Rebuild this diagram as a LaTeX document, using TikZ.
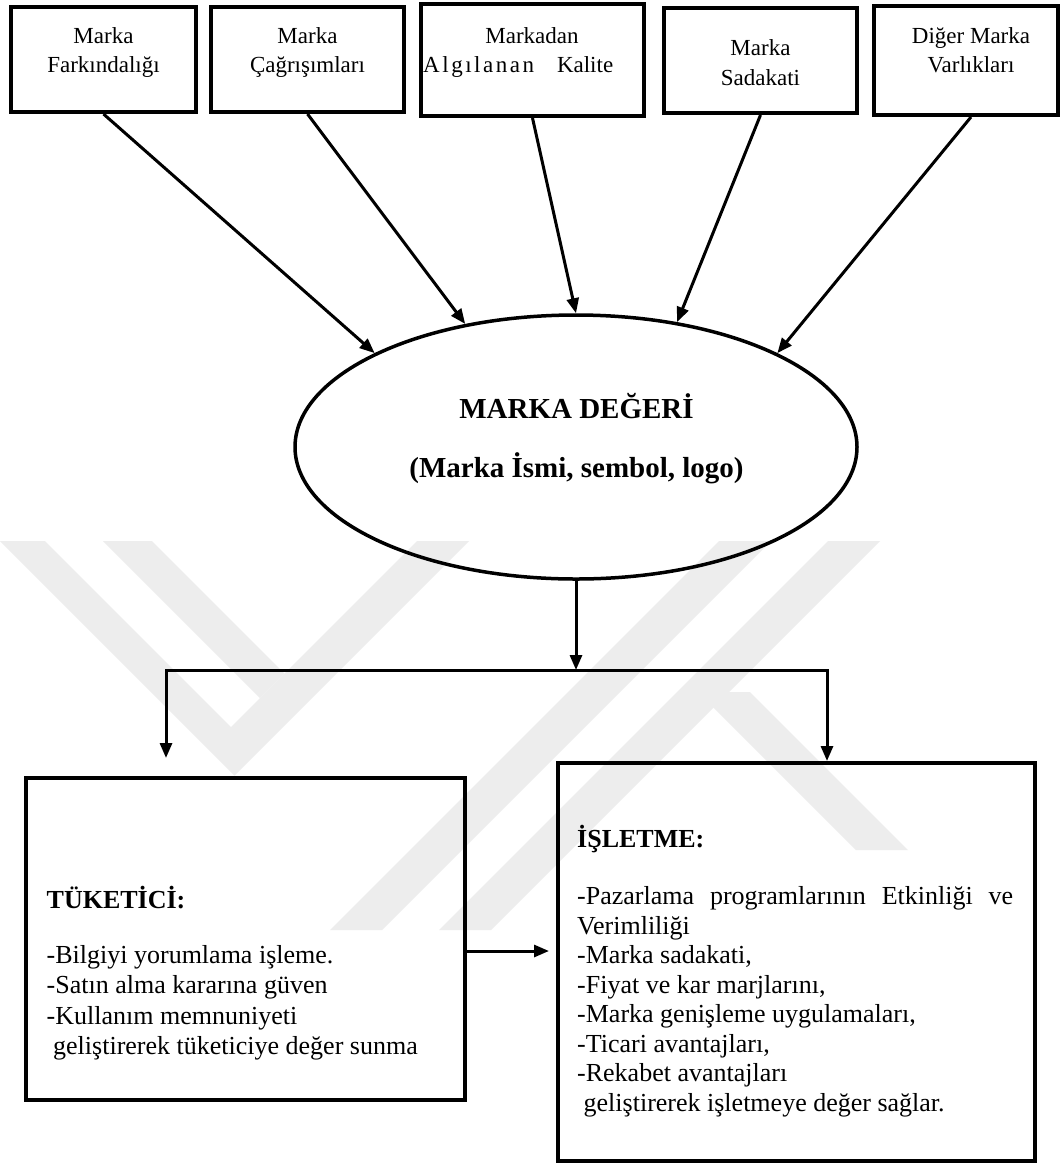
\documentclass[tikz,border=0pt]{standalone}
\usepackage{fontspec}
\setmainfont{Liberation Serif}
\usetikzlibrary{arrows.meta,shapes.geometric}

\begin{document}
\begin{tikzpicture}[x=1pt,y=-1pt,
  box/.style={draw, line width=4pt, inner sep=0pt},
  toptxt/.style={inner sep=0pt, anchor=base, font=\fontsize{23}{28}\selectfont},
  midtxt/.style={inner sep=0pt, anchor=base, font=\bfseries\fontsize{29}{34}\selectfont},
  bodytxt/.style={inner sep=0pt, anchor=base west, font=\fontsize{26}{30}\selectfont},
  headtxt/.style={inner sep=0pt, anchor=base west, font=\bfseries\fontsize{26}{30}\selectfont},
  conn/.style={line width=3pt, -{Triangle[length=15pt,width=12pt]}},
  wm/.style={fill=black!7, draw=none}]
\useasboundingbox[fill=white] (0,0) rectangle (1063,1176);

% faint background emblem
\fill[wm] (0,541) -- (45,541) -- (231,727) -- (417,541) -- (469,541) -- (234.5,775.5) -- cycle;
\fill[wm] (103,541) -- (152,541) -- (284.5,673.5) -- (260,698) -- cycle;
\fill[wm] (719,541) -- (771,541) -- (382,930) -- (330,930) -- cycle;
\fill[wm] (828,541) -- (880,541) -- (491,930) -- (439,930) -- cycle;
\fill[wm] (698,692) -- (750,692) -- (908,850) -- (856,850) -- cycle;

% source boxes
\node[box, minimum width=185, minimum height=105] (b1) at (103.5,59.5) {};
\node[box, minimum width=193, minimum height=105] (b2) at (307.5,59.5) {};
\node[box, minimum width=223, minimum height=112] (b3) at (532.5,60) {};
\node[box, minimum width=193, minimum height=105] (b4) at (760.5,60.5) {};
\node[box, minimum width=184, minimum height=109] (b5) at (966,60.5) {};

\node[toptxt] (t1a) at (103.5,43) {Marka};
\node[toptxt] (t1b) at (103.5,72) {Farkındalığı};
\node[toptxt] (t2a) at (307.5,43) {Marka};
\node[toptxt] (t2b) at (307.5,72) {Çağrışımları};
\node[toptxt] (t3a) at (532,43) {Markadan};
\node[toptxt, anchor=base west] (t3b) at (423,72) {\makebox[190pt][s]{{\addfontfeatures{LetterSpace=11}Algılanan} Kalite}};
\node[toptxt] (t4a) at (760.5,55.5) {Marka};
\node[toptxt] (t4b) at (760.5,85) {Sadakati};
\node[toptxt] (t5a) at (971,43) {Diğer Marka};
\node[toptxt] (t5b) at (971,72) {Varlıkları};

% brand equity ellipse
\node[draw, ellipse, line width=3.5pt, minimum width=562, minimum height=264, inner sep=0pt] (ell) at (576,447) {};
\node[midtxt] (e1) at (576.5,418) {MARKA DEĞERİ};
\node[midtxt] (e2) at (576.5,477) {(Marka İsmi, sembol, logo)};

\draw[conn] (b1.south) -- (ell.155);
\draw[conn] (b2.south) -- (ell.132);
\draw[conn] (b3.south) -- (ell.90);
\draw[conn] (b4.south) -- (ell.51);
\draw[conn] ([xshift=5pt]b5.south) -- (ell.25);

% result boxes
\node[box, minimum width=439, minimum height=322] (lb) at (245,939) {};
\node[box, minimum width=477, minimum height=398] (rb) at (796.5,962) {};

\coordinate (bj) at (576,670);
\coordinate (lbus) at (166,670);
\coordinate (rbus) at (827,670);
\coordinate (ltip) at (166,758);
\coordinate (htip) at (549,951);

\draw[conn] (ell.south) -- (bj);
\draw[line width=3pt, {Triangle[length=15pt,width=12pt]}-{Triangle[length=15pt,width=12pt]}]
  (ltip) -- (lbus) -- (rbus) -- (rbus |- rb.north);
\draw[conn] (lb.east |- htip) -- (htip);

% consumer side
\node[headtxt] (lh) at (46.5,908) {TÜKETİCİ:};
\node[bodytxt] (l1) at (46.5,963.5) {-Bilgiyi yorumlama işleme.};
\node[bodytxt] (l2) at (46.5,993.9) {-Satın alma kararına güven};
\node[bodytxt] (l3) at (46.5,1024.3) {-Kullanım memnuniyeti};
\node[bodytxt] (l4) at (46.5,1054.7) {\ geliştirerek tüketiciye değer sunma};

% firm side
\node[headtxt] (rh) at (577,847) {İŞLETME:};
\node[bodytxt] (r1) at (577,904.5) {\makebox[436pt][s]{-Pazarlama programlarının Etkinliği ve}};
\node[bodytxt] (r2) at (577,934.1) {Verimliliği};
\node[bodytxt] (r3) at (577,963.6) {-Marka sadakati,};
\node[bodytxt] (r4) at (577,993.2) {-Fiyat ve kar marjlarını,};
\node[bodytxt] (r5) at (577,1022.8) {-Marka genişleme uygulamaları,};
\node[bodytxt] (r6) at (577,1052.4) {-Ticari avantajları,};
\node[bodytxt] (r7) at (577,1081.9) {-Rekabet avantajları};
\node[bodytxt] (r8) at (577,1111.5) {\ geliştirerek işletmeye değer sağlar.};
\end{tikzpicture}
\end{document}
